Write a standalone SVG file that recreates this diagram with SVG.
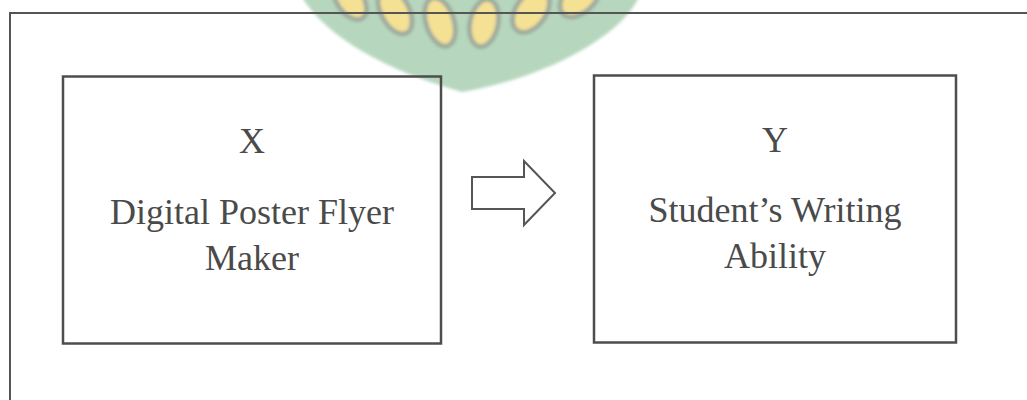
<svg xmlns="http://www.w3.org/2000/svg" width="1027" height="400" viewBox="0 0 1027 400">
  <style>
    .frame { fill: none; stroke: #555555; stroke-width: 2; }
    .box { fill: none; stroke: #4d4d4d; stroke-width: 2.5; }
    .label { font-family: "Liberation Serif", "Times New Roman", serif; font-size: 36px; fill: #4a4a4a; text-anchor: middle; }
    .grain { fill: #f3da7a; stroke: #889886; stroke-width: 5; }
  </style>
  <defs>
    <filter id="soft" x="-10%" y="-10%" width="120%" height="120%">
      <feGaussianBlur stdDeviation="1.8"/>
    </filter>
  </defs>
  <rect width="1027" height="400" fill="#ffffff"/>

  <!-- emblem in the background -->
  <g id="emblem" filter="url(#soft)" opacity="0.8">
    <path d="M300,-6 L640,-6 C625,35 545,78 462,92 C390,72 325,38 300,-6 Z" fill="#a4cdae"/>
    <ellipse class="grain" cx="350" cy="0" rx="13" ry="22" transform="rotate(-35 350 0)"/>
    <ellipse class="grain" cx="395" cy="11" rx="14" ry="25" transform="rotate(-28 395 11)"/>
    <ellipse class="grain" cx="440" cy="22" rx="14" ry="25" transform="rotate(-18 440 22)"/>
    <ellipse class="grain" cx="484" cy="23" rx="14" ry="24" transform="rotate(12 484 23)"/>
    <ellipse class="grain" cx="531" cy="11" rx="15" ry="24" transform="rotate(35 531 11)"/>
    <ellipse class="grain" cx="580" cy="-3" rx="15" ry="24" transform="rotate(45 580 -3)"/>
  </g>

  <!-- outer frame, open to the right and bottom -->
  <g id="frame">
    <path class="frame" d="M10,400 L10,13 L1027,13"/>
  </g>

  <g id="node-x">
    <rect class="box" x="63" y="76.5" width="378" height="267"/>
    <text class="label" x="252" y="153">X</text>
    <text class="label" x="252" y="224">Digital Poster Flyer</text>
    <text class="label" x="252" y="270">Maker</text>
  </g>

  <g id="node-y">
    <rect class="box" x="594" y="75.5" width="362" height="267"/>
    <text class="label" x="775" y="152">Y</text>
    <text class="label" x="775" y="222">Student’s Writing</text>
    <text class="label" x="775" y="268">Ability</text>
  </g>

  <g id="connectors">
    <polygon class="frame" points="472,177 524,177 524,161 555,193 524,225 524,209 472,209"/>
  </g>
</svg>
